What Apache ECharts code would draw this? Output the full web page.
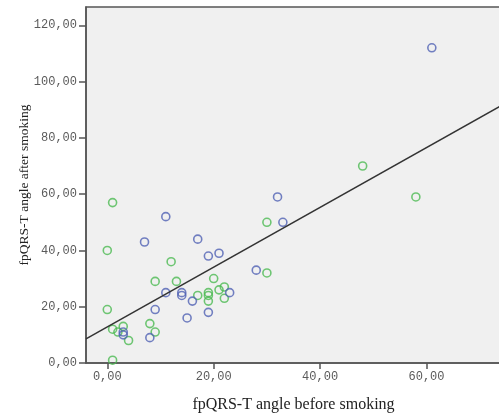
<!DOCTYPE html>
<html>
<head>
<meta charset="utf-8">
<script src="https://cdn.jsdelivr.net/npm/echarts@6/dist/echarts.min.js"></script>
<style>
  html, body { margin: 0; padding: 0; background: #fff; }
  #chart { width: 499px; height: 414px; }
</style>
</head>
<body>
<div id="chart"></div>
<script>
// values: [before, after]
var greenPoints = [
  [1, 57], [0, 40], [12, 36], [9, 29], [13, 29], [20, 30], [17, 24],
  [19, 25], [19, 24], [19, 22], [21, 26], [22, 27], [22, 23], [0, 19],
  [1, 12], [3, 13], [2, 11], [4, 8], [8, 14], [9, 11], [1, 1],
  [30, 50], [30, 32], [48, 70], [58, 59]
];
var bluePoints = [
  [11, 52], [7, 43], [17, 44], [19, 38], [21, 39], [11, 25], [14, 25],
  [14, 24], [16, 22], [23, 25], [9, 19], [15, 16], [19, 18], [3, 11],
  [3, 10], [8, 9], [32, 59], [28, 33], [33, 50], [61, 112]
];
// fit line end points as drawn
var fitLine = [[-4, 8.6], [74, 91.4]];
var xTicks = [0, 20, 40, 60];
var yTicks = [0, 20, 40, 60, 80, 100, 120];

function fmt(v) {
  return v.toFixed(2).replace('.', ',');
}

var chart = echarts.init(document.getElementById('chart'));

var labelStyle = {
  fontFamily: 'Liberation Mono',
  fontSize: 12,
  color: '#5a5a5a'
};

var option = {
  backgroundColor: '#fff',
  animation: false,
  grid: {
    left: 86,
    top: 7,
    right: -2,
    bottom: 51,
    containLabel: false,
    outerBoundsMode: 'none',
    show: true,
    backgroundColor: '#f0f0f0',
    borderColor: '#555',
    borderWidth: 1.5
  },
  xAxis: {
    type: 'value',
    min: -4,
    max: 74,
    name: 'fpQRS-T angle before smoking',
    nameLocation: 'middle',
    nameGap: 34,
    nameTextStyle: {
      fontFamily: 'Liberation Serif',
      fontSize: 16,
      color: '#222'
    },
    splitLine: { show: false },
    axisLine: { lineStyle: { color: '#555', width: 1.5 } },
    axisTick: {
      length: 6,
      customValues: xTicks,
      lineStyle: { color: '#555', width: 1.5 }
    },
    axisLabel: Object.assign({
      margin: 8,
      customValues: xTicks,
      formatter: fmt
    }, labelStyle)
  },
  yAxis: {
    type: 'value',
    min: 0,
    max: 126.5,
    name: 'fpQRS-T angle after smoking',
    nameLocation: 'middle',
    nameGap: 55,
    nameMoveOverlap: false,
    nameTextStyle: {
      fontFamily: 'Liberation Serif',
      fontSize: 13.5,
      color: '#222'
    },
    splitLine: { show: false },
    axisLine: { onZero: false, lineStyle: { color: '#555', width: 1.5 } },
    axisTick: {
      length: 7,
      customValues: yTicks,
      lineStyle: { color: '#555', width: 1.5 }
    },
    axisLabel: Object.assign({
      margin: 9,
      customValues: yTicks,
      formatter: fmt
    }, labelStyle)
  },
  series: [
    {
      type: 'scatter',
      data: greenPoints,
      symbol: 'circle',
      symbolSize: 8,
      itemStyle: {
        color: 'rgba(0,0,0,0)',
        borderColor: '#4cba52',
        borderWidth: 1.6
      }
    },
    {
      type: 'scatter',
      data: bluePoints,
      symbol: 'circle',
      symbolSize: 8,
      itemStyle: {
        color: 'rgba(0,0,0,0)',
        borderColor: '#5061b4',
        borderWidth: 1.6
      }
    },
    {
      type: 'line',
      data: fitLine,
      showSymbol: false,
      symbol: 'none',
      lineStyle: { color: '#333', width: 1.5 },
      z: 3
    }
  ]
};

chart.setOption(option);
</script>
</body>
</html>
